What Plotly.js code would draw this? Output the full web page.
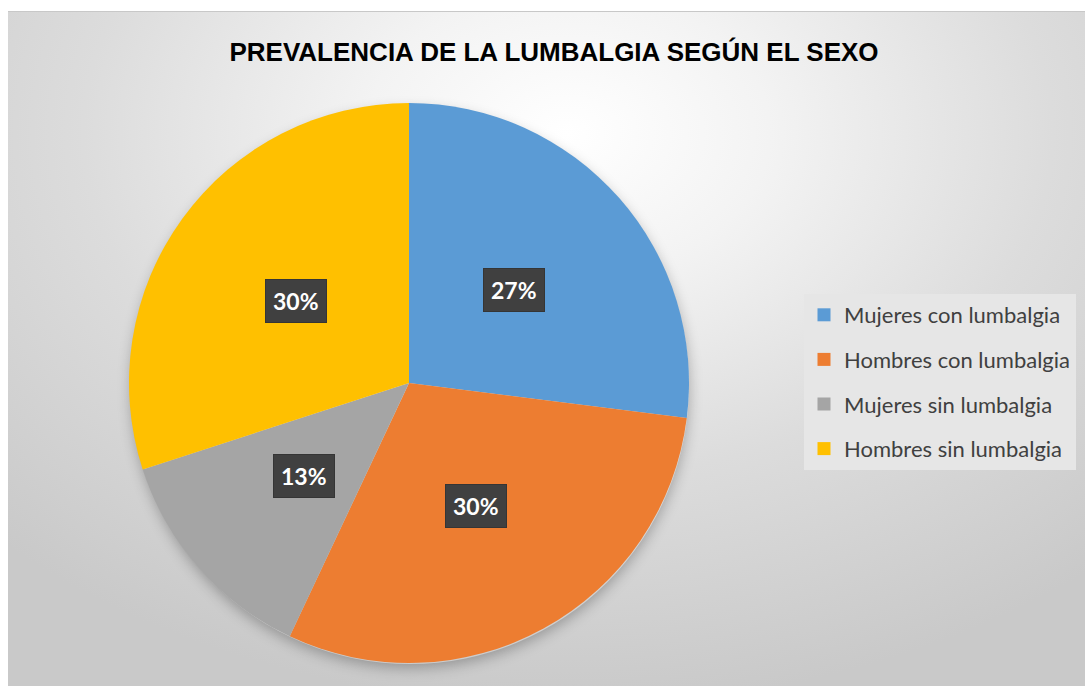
<!DOCTYPE html>
<html>
<head>
<meta charset="utf-8">
<script src="https://cdn.plot.ly/plotly-3.0.1.min.js"></script>
<style>
  html, body { margin: 0; padding: 0; background: #ffffff; width: 1085px; height: 686px; overflow: hidden; }
  #bg { position: absolute; left: 8px; top: 11px; width: 1077px; height: 675px;
        background: radial-gradient(ellipse 75% 85% at 52% 18%, #ffffff 0%, #f3f3f3 25%, #dcdcdc 60%, #c9c9c9 100%);
        border-top: 1px solid #c8c8c8; box-sizing: border-box; }
  #shadow { position: absolute; left: 131px; top: 106px; width: 558px; height: 558px; border-radius: 50%;
        box-shadow: 0 4px 14px rgba(0,0,0,0.28); }
  #chart { position: absolute; left: 0; top: 0; width: 1085px; height: 686px; }
</style>
</head>
<body>
<div id="bg"></div>
<div id="shadow"></div>
<div id="chart"></div>
<script>
const categories = ["Mujeres con lumbalgia", "Hombres con lumbalgia", "Mujeres sin lumbalgia", "Hombres sin lumbalgia"];
const values = [27, 30, 13, 30];
const colors = ["#5b9bd5", "#ed7d31", "#a5a5a5", "#ffc000"];
const titleText = "PREVALENCIA DE LA LUMBALGIA SEGÚN EL SEXO";

const W = 1085, H = 686;
const cxPx = 409, cyPx = 383, R = 280;
const domX = [(cxPx - R) / W, (cxPx + R) / W];
const domY = [(H - cyPx - R) / H, (H - cyPx + R) / H];

const pie = {
  type: "pie",
  labels: categories,
  values: values,
  sort: false,
  direction: "clockwise",
  rotation: 0,
  marker: { colors: colors, line: { width: 0 } },
  textinfo: "none",
  hoverinfo: "label+percent",
  showlegend: false,
  domain: { x: domX, y: domY }
};

// legend entries (same categories/colours) to get the spacing of the original
const legendTraces = categories.map((c, i) => ({
  type: "scatter", mode: "markers", x: [null], y: [null], name: c,
  legendgroup: "g" + i, showlegend: true,
  marker: { symbol: "square", size: 13, color: colors[i] },
  hoverinfo: "skip"
}));

// percentage labels placed on the mid-angle of each slice
const total = values.reduce((a, b) => a + b, 0);
let acc = 0;
const annotations = values.map((v, i) => {
  const mid = (acc + v / 2) / total * 2 * Math.PI;
  acc += v;
  const rr = 0.5 * R;
  return {
    xref: "paper", yref: "paper",
    x: (cxPx + rr * Math.sin(mid)) / W,
    y: (H - cyPx + rr * Math.cos(mid)) / H,
    text: "<b>" + Math.round(v / total * 100) + "%</b>",
    showarrow: false,
    font: { family: "Lato, 'Open Sans', sans-serif", size: 23, color: "#ffffff" },
    bgcolor: "#404040",
    bordercolor: "#353535", borderwidth: 1,
    borderpad: 7,
    xanchor: "center", yanchor: "middle"
  };
});

const layout = {
  width: W, height: H,
  margin: { l: 0, r: 0, t: 0, b: 0 },
  paper_bgcolor: "rgba(0,0,0,0)",
  plot_bgcolor: "rgba(0,0,0,0)",
  title: {
    text: "<b>" + titleText + "</b>",
    font: { family: "'Liberation Sans', Arial, sans-serif", size: 26, color: "#000000" },
    x: 554 / W, xanchor: "center", y: 1 - 52 / H, yanchor: "middle"
  },
  xaxis: { visible: false },
  yaxis: { visible: false },
  showlegend: true,
  legend: {
    x: 804 / W, xanchor: "left",
    y: 1 - 294 / H, yanchor: "top",
    bgcolor: "#e6e6e6",
    font: { family: "Lato, 'Open Sans', sans-serif", size: 22, color: "#404040" },
    traceorder: "grouped",
    tracegroupgap: 13,
    itemclick: false
  },
  annotations: annotations
};

Plotly.newPlot("chart", [pie].concat(legendTraces), layout, { displayModeBar: false, staticPlot: true });
</script>
</body>
</html>
